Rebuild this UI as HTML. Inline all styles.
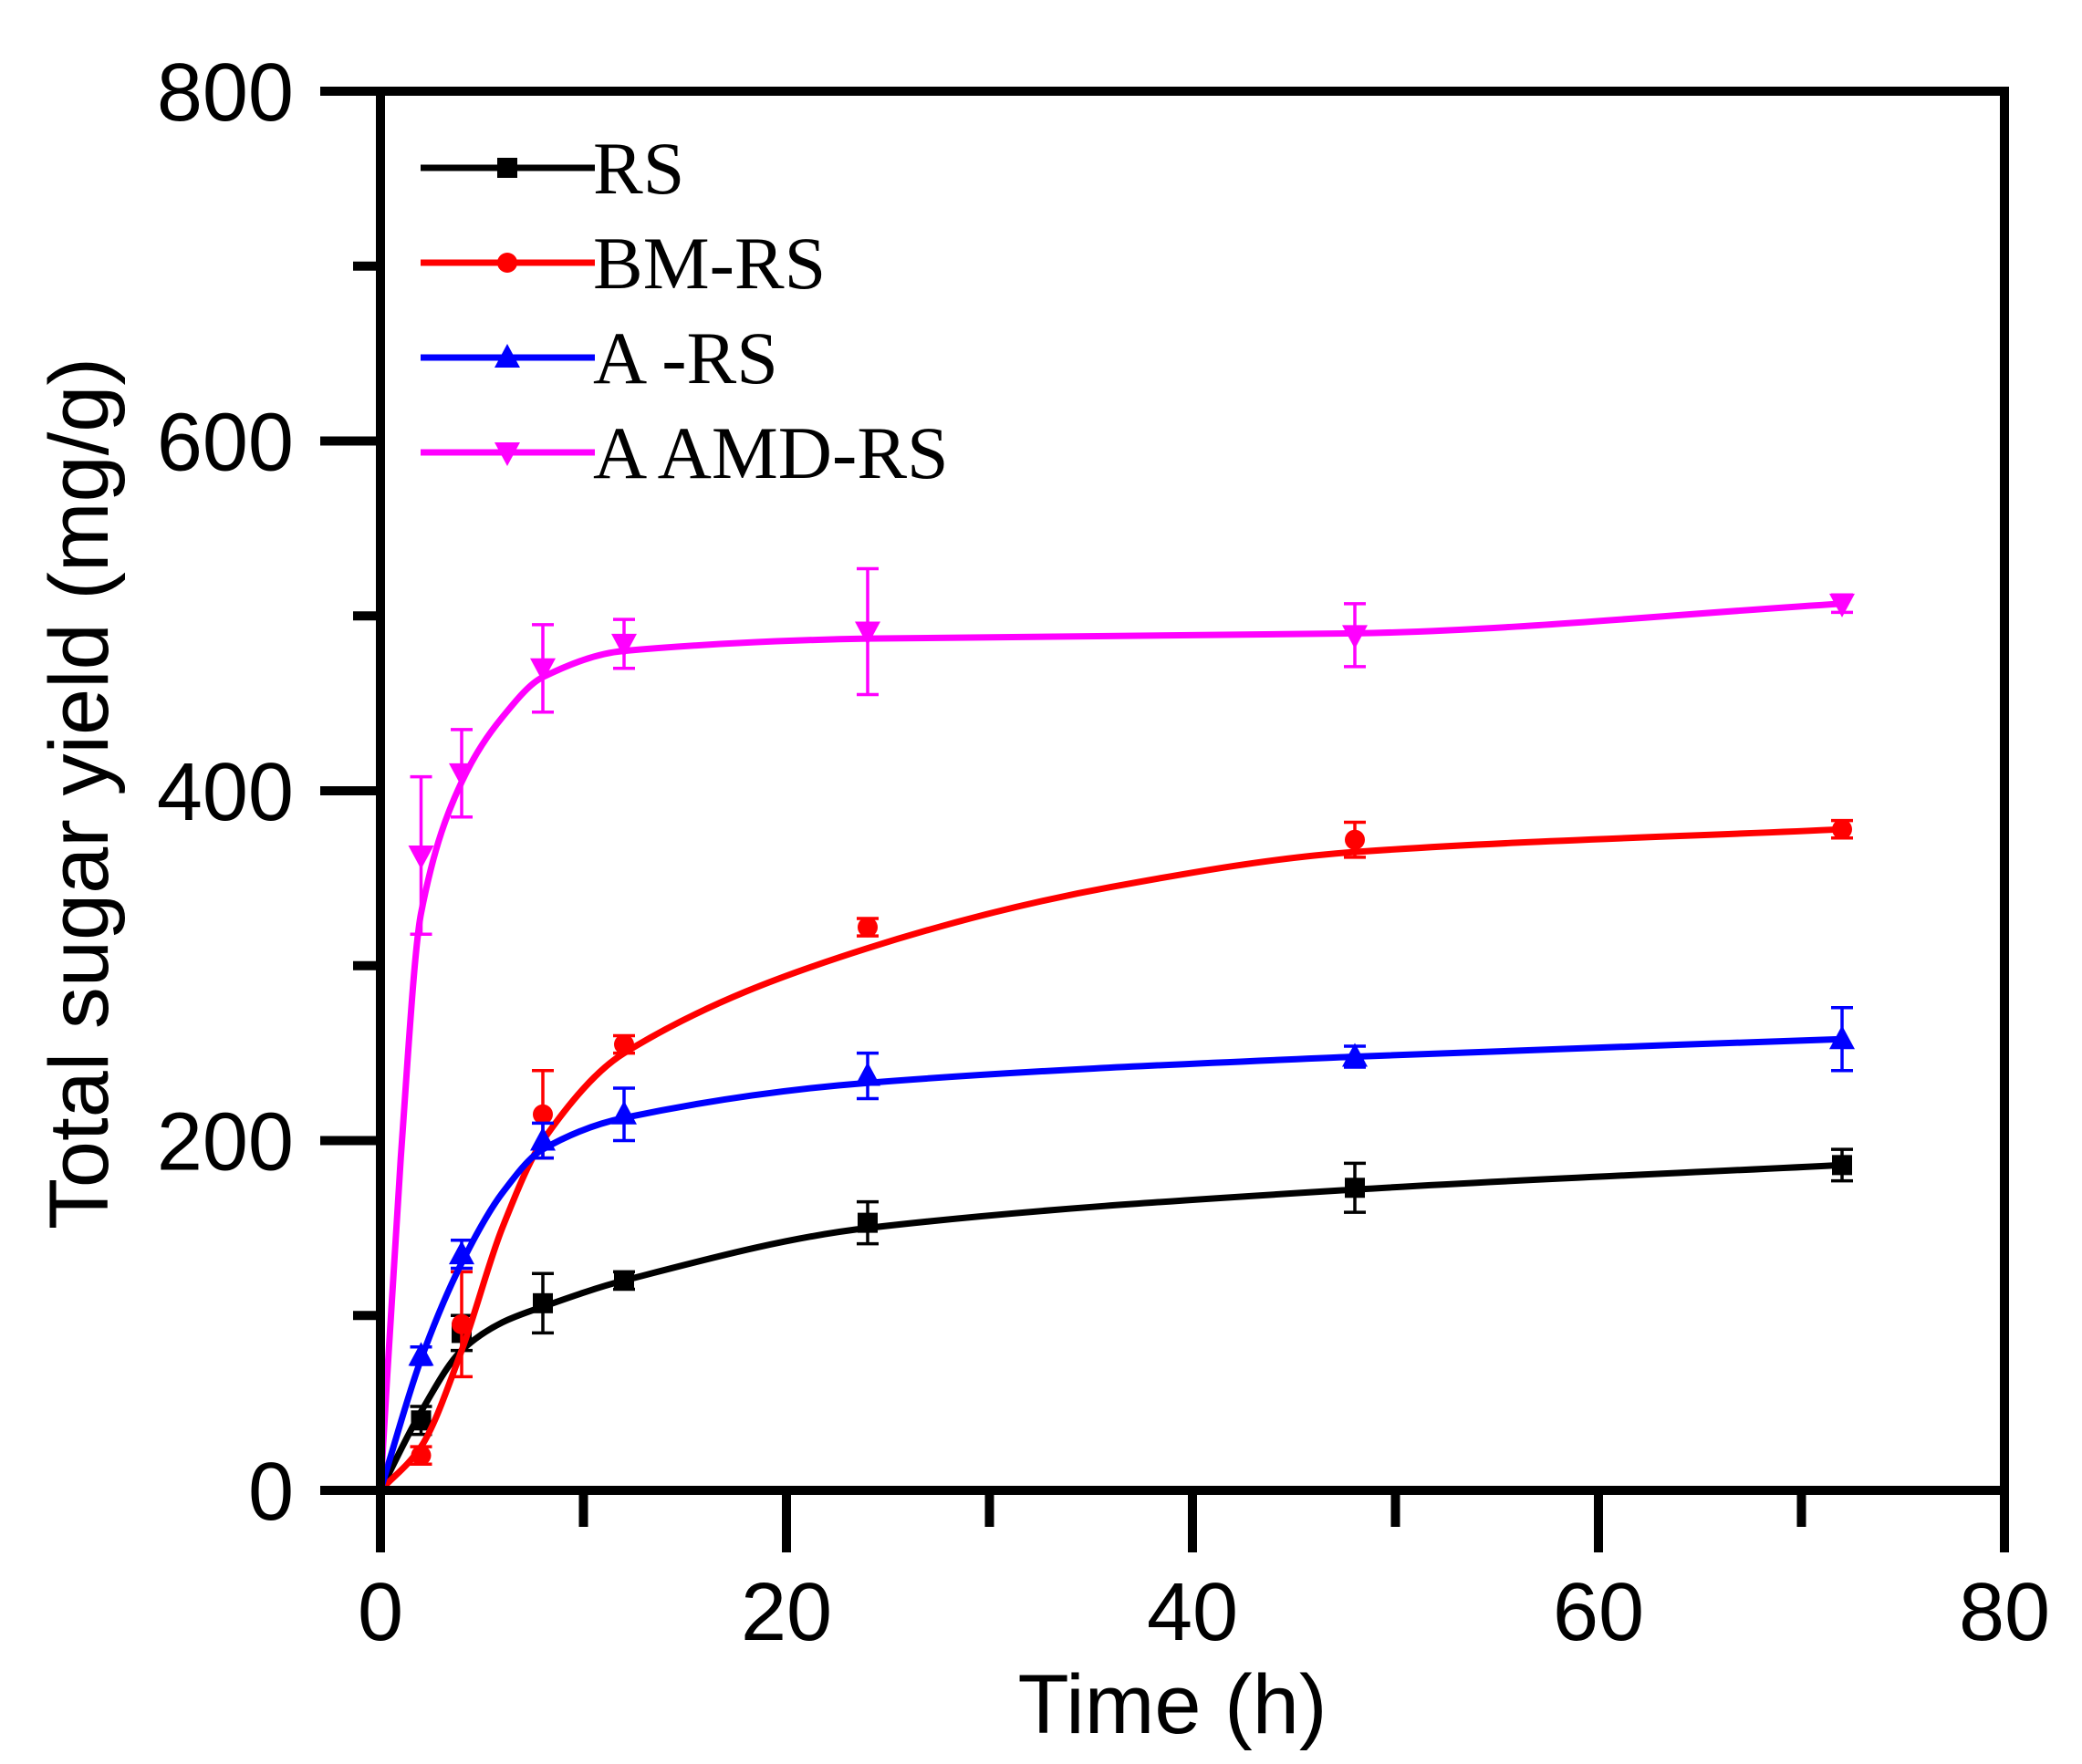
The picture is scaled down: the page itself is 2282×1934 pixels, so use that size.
<!DOCTYPE html>
<html><head><meta charset="utf-8"><style>
html,body{margin:0;padding:0;background:#fff;}
svg{display:block;}
</style></head><body>
<svg id="chart" width="2282" height="1934" xmlns="http://www.w3.org/2000/svg">
<g id="plot"></g>
</svg>
<script>
const times = [0, 2, 4, 8, 12, 24, 48, 72];
const seriesNames = ["RS", "BM-RS", "A-RS", "AAMD-RS"];
const rsValues = [0, 40, 90, 107, 120, 153, 173, 186];
const rsErrors = [0, 8, 10, 17, 5, 12, 14, 9];
const bmValues = [0, 20, 95, 215, 255, 322, 372, 378];
const bmErrors = [0, 5, 30, 25, 5, 5, 10, 5];
const aValues = [0, 77, 135, 200, 215, 237, 248, 258];
const aErrors = [0, 5, 8, 10, 15, 13, 6, 18];
const aamdValues = [0, 363, 410, 470, 484, 491, 489, 507];
const aamdErrors = [0, 45, 25, 25, 14, 36, 18, 5];
const rsFitTimes = [0, 2, 4, 6, 8, 12, 24, 48, 72];
const rsFit = [0, 45, 80, 96, 105, 120, 150, 172, 186];
const bmFitTimes = [0, 2, 4, 6, 8, 12, 24, 36, 48, 72];
const bmFit = [0, 25, 80, 150, 200, 250, 310, 345, 365, 378];
const aFitTimes = [0, 2, 4, 6, 8, 12, 24, 48, 72];
const aFit = [0, 75, 130, 170, 195, 213, 233, 248, 258];
const aamdFitTimes = [0, 1, 2, 4, 6, 8, 12, 24, 48, 72];
const aamdFit = [0, 190, 330, 405, 442, 465, 480, 487, 490, 507];
const xTickLabels = [0, 20, 40, 60, 80];
const yTickLabels = [0, 200, 400, 600, 800];

const X0 = 417, X1 = 2197, Y0 = 1634, Y1 = 100;
const xMax = 80, yMax = 800;
function sx(v){ return X0 + v / xMax * (X1 - X0); }
function sy(v){ return Y0 - v / yMax * (Y0 - Y1); }

const NS = "http://www.w3.org/2000/svg";
const plot = document.getElementById("plot");
function mk(tag, attrs, parent){
  const e = document.createElementNS(NS, tag);
  for (const k in attrs) e.setAttribute(k, attrs[k]);
  (parent || plot).appendChild(e);
  return e;
}

function smoothPath(xs, ys){
  const n = xs.length, m = [], d = [];
  for (let i = 0; i < n - 1; i++) d.push((ys[i+1]-ys[i])/(xs[i+1]-xs[i]));
  m[0] = d[0]; m[n-1] = d[n-2];
  for (let i = 1; i < n - 1; i++) m[i] = d[i-1]*d[i] <= 0 ? 0 : 2/(1/d[i-1]+1/d[i]);
  let p = "M" + xs[0] + "," + ys[0];
  for (let i = 0; i < n - 1; i++){
    const h = xs[i+1]-xs[i];
    p += " C" + (xs[i]+h/3) + "," + (ys[i]+m[i]*h/3) + " " + (xs[i+1]-h/3) + "," + (ys[i+1]-m[i+1]*h/3) + " " + xs[i+1] + "," + ys[i+1];
  }
  return p;
}

function marker(type, cx, cy, color, parent){
  let e;
  if (type === "square") e = mk("rect", {x: cx-11, y: cy-11, width: 22, height: 22, fill: color}, parent);
  else if (type === "circle") e = mk("circle", {cx: cx, cy: cy, r: 11, fill: color}, parent);
  else if (type === "up") e = mk("polygon", {points: (cx)+","+(cy-15)+" "+(cx-14)+","+(cy+11)+" "+(cx+14)+","+(cy+11), fill: color}, parent);
  else e = mk("polygon", {points: (cx)+","+(cy+15)+" "+(cx-14)+","+(cy-11)+" "+(cx+14)+","+(cy-11), fill: color}, parent);
  return e;
}

const allSeries = [
  {name: seriesNames[0], vals: rsValues, errs: rsErrors, ft: rsFitTimes, fv: rsFit, color: "#000000", mk: "square"},
  {name: seriesNames[1], vals: bmValues, errs: bmErrors, ft: bmFitTimes, fv: bmFit, color: "#ff0000", mk: "circle"},
  {name: seriesNames[2], vals: aValues, errs: aErrors, ft: aFitTimes, fv: aFit, color: "#0000ff", mk: "up"},
  {name: seriesNames[3], vals: aamdValues, errs: aamdErrors, ft: aamdFitTimes, fv: aamdFit, color: "#ff00ff", mk: "down"}
];

allSeries.forEach((s, si) => {
  const g = mk("g", {});
  
  
  const path = mk("path", {d: smoothPath(s.ft.map(sx), s.fv.map(sy)), fill: "none", stroke: s.color, "stroke-width": 7}, g);
  
  
  times.forEach((t, i) => {
    if (i === 0) return;
    const cx = sx(t);
    const top = sy(s.vals[i] + s.errs[i]), bot = sy(s.vals[i] - s.errs[i]);
    const eb = mk("path", {d: "M"+cx+","+top+" L"+cx+","+bot+" M"+(cx-12)+","+top+" L"+(cx+12)+","+top+" M"+(cx-12)+","+bot+" L"+(cx+12)+","+bot, stroke: s.color, "stroke-width": 3.5, fill: "none"}, g);
    
    
    const m = marker(s.mk, cx, sy(s.vals[i]), s.color, g);
    
    
  });
  const ly = 184 + si * 104;
  const lg = mk("g", {});
  
  
  mk("line", {x1: 461, y1: ly, x2: 652, y2: ly, stroke: s.color, "stroke-width": 7}, lg);
  marker(s.mk, 556, ly, s.color, lg);
  const lt = mk("text", {x: 650, y: ly + 28, "font-family": "Liberation Serif, serif", "font-size": 82, fill: "#000"}, lg);
  lt.textContent = s.name === "A-RS" ? "A -RS" : (s.name === "AAMD-RS" ? "A AMD-RS" : s.name);
});

const frame = mk("rect", {x: X0, y: Y1, width: X1 - X0, height: Y0 - Y1, fill: "none", stroke: "#000", "stroke-width": 10});



for (let v = 0; v <= 80; v += 10){
  const major = v % 20 === 0;
  const t = mk("line", {x1: sx(v), y1: Y0, x2: sx(v), y2: Y0 + (major ? 68 : 40), stroke: "#000", "stroke-width": 10});
  
  
}
xTickLabels.forEach(v => {
  const t = mk("text", {x: sx(v), y: 1798, "text-anchor": "middle", "font-family": "Liberation Sans, sans-serif", "font-size": 90, fill: "#000"});
  
  
  t.textContent = v;
});
for (let v = 0; v <= 800; v += 100){
  const major = v % 200 === 0;
  const t = mk("line", {x1: X0, y1: sy(v), x2: X0 - (major ? 66 : 30), y2: sy(v), stroke: "#000", "stroke-width": 10});
  
  
}
yTickLabels.forEach(v => {
  const t = mk("text", {x: 322, y: sy(v) + 32, "text-anchor": "end", "font-family": "Liberation Sans, sans-serif", "font-size": 90, fill: "#000"});
  
  
  t.textContent = v;
});

const xt = mk("text", {x: 1285, y: 1900, "text-anchor": "middle", "font-family": "Liberation Sans, sans-serif", "font-size": 92, fill: "#000"});


xt.textContent = "Time (h)";
const yt = mk("text", {x: 0, y: 0, transform: "translate(118,870) rotate(-90)", "text-anchor": "middle", "font-family": "Liberation Sans, sans-serif", "font-size": 92, fill: "#000"});


yt.textContent = "Total sugar yield (mg/g)";
</script>
</body></html>
